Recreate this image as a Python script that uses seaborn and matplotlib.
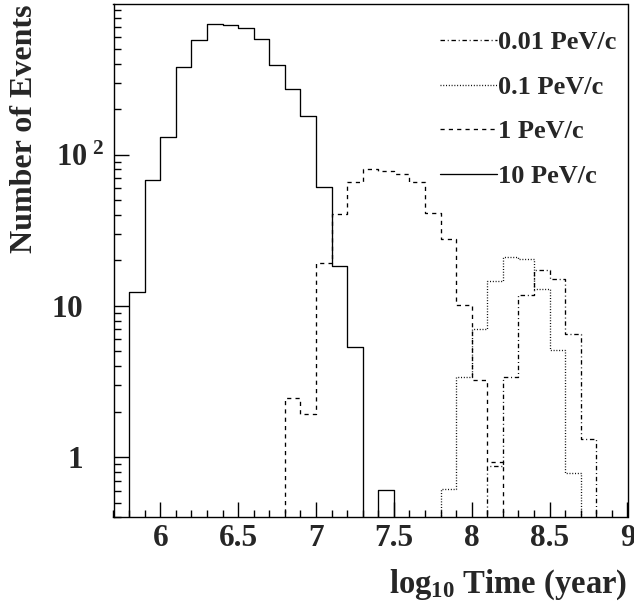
import numpy as np
import pandas as pd
import matplotlib
matplotlib.use("Agg")
import matplotlib.pyplot as plt
from matplotlib.ticker import LogLocator, NullFormatter, MultipleLocator
import seaborn as sns

# ---------------- data ----------------
bin_edges = np.round(np.arange(5.7, 9.0001, 0.1), 2)   # 33 bins of 0.1 in log10(time)

series_names = ["0.01 PeV/c", "0.1 PeV/c", "1 PeV/c", "10 PeV/c"]

# first bin (left edge) of each histogram and its bin contents
start_001 = 8.1
counts_001 = [0.87, 3.39, 11.8, 17.4, 15.0, 6.5, 1.32]

start_01 = 7.8
counts_01 = [0.62, 3.39, 7.08, 14.6, 21.1, 20.3, 13.0, 5.14, 0.78]

start_1 = 6.8
counts_1 = [2.45, 1.94, 19.2, 40.5, 66.0, 80.0, 78.0, 74.0, 66.0, 40.9, 27.9, 10.1, 3.25, 0.93]

start_10 = 5.8
counts_10 = [12.3, 68.0, 131.0, 379.0, 573.0, 734.0, 725.0, 690.0, 581.0, 391.0,
             271.0, 181.0, 61.4, 18.4, 5.35, 0.0, 0.61]

x_ticks = [6, 6.5, 7, 7.5, 8, 8.5, 9]
x_tick_labels = ["6", "6.5", "7", "7.5", "8", "8.5", "9"]
y_ticks = [1, 10, 100]
y_tick_labels = [r"$\mathbf{1}$", r"$\mathbf{10}$", r"$\mathbf{10^{\ 2}}$"]

# ---------------- style ----------------
sns.set_style("ticks")
plt.rcParams["font.family"] = ["Liberation Serif", "DejaVu Serif"]
plt.rcParams["font.weight"] = "bold"
plt.rcParams["mathtext.fontset"] = "custom"
plt.rcParams["mathtext.rm"] = "Liberation Serif:bold"
plt.rcParams["mathtext.bf"] = "Liberation Serif:bold"
plt.rcParams["mathtext.it"] = "Liberation Serif:bold"
plt.rcParams["lines.scale_dashes"] = False

line_styles = {
    "0.01 PeV/c": (0, (3.2, 2.0, 0.7, 2.0)),
    "0.1 PeV/c": (0, (0.7, 1.3)),
    "1 PeV/c": (0, (3.0, 3.0)),
    "10 PeV/c": "-",
}

fig = plt.figure(figsize=(6.34, 6.12), dpi=100)
ax = fig.add_axes([113.5 / 634, (612 - 517.3) / 612, (627.5 - 113.5) / 634, (517.3 - 3.5) / 612])

floor = 1e-3  # empty bins drawn down below the axis bottom
n_bins = len(bin_edges) - 1


def full_hist(start, counts):
    h = np.zeros(n_bins)
    i0 = int(round((start - bin_edges[0]) / 0.1))
    h[i0:i0 + len(counts)] = counts
    return h


hists = {
    "0.01 PeV/c": full_hist(start_001, counts_001),
    "0.1 PeV/c": full_hist(start_01, counts_01),
    "1 PeV/c": full_hist(start_1, counts_1),
    "10 PeV/c": full_hist(start_10, counts_10),
}

for name in series_names:
    h = hists[name]
    y = np.append(np.where(h > 0, h, floor), floor)
    df = pd.DataFrame({"t": bin_edges, "n": y})
    sns.lineplot(data=df, x="t", y="n", ax=ax, drawstyle="steps-post",
                 estimator=None, errorbar=None, color="black", lw=0.95,
                 linestyle=line_styles[name], label=name)

ax.set_yscale("log")
ax.set_xlim(5.7, 9.0)
ax.set_ylim(0.4, 1000)

# ticks
ax.set_xticks(x_ticks, labels=x_tick_labels)
ax.xaxis.set_minor_locator(MultipleLocator(0.1))
ax.set_yticks(y_ticks, labels=y_tick_labels)
ax.yaxis.set_minor_locator(LogLocator(base=10, subs=np.arange(2, 10)))
ax.yaxis.set_minor_formatter(NullFormatter())
ax.tick_params(axis="both", which="both", direction="in", top=False, right=False,
               width=1.0, color="black")
ax.tick_params(axis="x", which="major", length=11, labelsize=22.5, pad=5)
ax.tick_params(axis="x", which="minor", length=5.4)
ax.tick_params(axis="y", which="major", length=11, labelsize=22.5, pad=22)
ax.tick_params(axis="y", which="minor", length=5.2)
for lab in ax.get_xticklabels() + ax.get_yticklabels():
    lab.set_fontweight("bold")
lab100 = ax.get_yticklabels()[2]
lab100.set_fontsize(22)
lab100.set_x(21 / 514)

for sp in ax.spines.values():
    sp.set_linewidth(1.0)
    sp.set_color("black")

ax.set_xlabel(r"log$_{10}$ Time (year)", fontsize=23.5, fontweight="bold", loc="right", labelpad=10)
ax.set_ylabel("Number of Events", fontsize=23, fontweight="bold", loc="top")
ax.yaxis.set_label_coords((39 - 113.5) / 514, 1 - (5 - 3.5) / 514)

handles, labels = ax.get_legend_handles_labels()
order = [labels.index(n) for n in series_names]
ax.legend([handles[i] for i in order], [labels[i] for i in order],
          loc="upper left", bbox_to_anchor=((440 - 113.5) / 514, 0.947),
          frameon=False, prop={"weight": "bold", "size": 19},
          handlelength=2.15, handletextpad=0.06, labelspacing=0.8, borderpad=0,
          borderaxespad=0)

fig.savefig("out.png", dpi=100)
